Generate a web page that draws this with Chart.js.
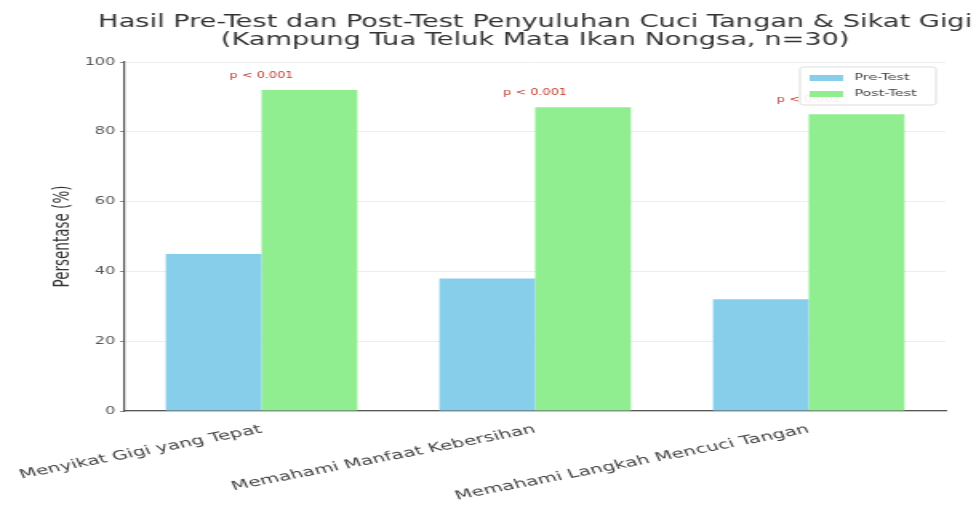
<!DOCTYPE html>
<html lang="id">
<head>
  <meta charset="UTF-8" />
  <title>Hasil Pre-Test dan Post-Test</title>
  <script src="https://cdn.jsdelivr.net/npm/chart.js"></script>
  <style>
    body { margin: 0; background: #fff; overflow: hidden; }
    /* the reference is a horizontally stretched picture: draw at 610 wide, stretch to 976 */
    #wrap { width: 610px; height: 520px; transform: scaleX(1.6); transform-origin: 0 0; }
  </style>
</head>
<body>
  <div id="wrap"><canvas id="chart" width="610" height="520"></canvas></div>
  <script>
    // data
    const categories = ["Menyikat Gigi yang Tepat", "Memahami Manfaat Kebersihan", "Memahami Langkah Mencuci Tangan"];
    const preTest = [45, 38, 32];
    const postTest = [92, 87, 85];
    const pLabels = ["p < 0.001", "p < 0.001", "p < 0.001"];
    const titleLines = ["Hasil Pre-Test dan Post-Test Penyuluhan Cuci Tangan & Sikat Gigi", "(Kampung Tua Teluk Mata Ikan Nongsa, n=30)"];
    const yTicks = [0, 20, 40, 60, 80, 100];

    const preColor = "#87CEEB";
    const postColor = "#90EE90";

    // title centred over the plot area
    const titlePlugin = {
      id: "titleOverPlot",
      afterDraw(chart) {
        const ctx = chart.ctx, a = chart.chartArea;
        const cx = (a.left + a.right) / 2;
        ctx.save();
        ctx.fillStyle = "#333";
        ctx.font = "17px 'DejaVu Sans'";
        ctx.textAlign = "center";
        ctx.textBaseline = "alphabetic";
        ctx.fillText(titleLines[0], cx, 27);
        ctx.fillText(titleLines[1], cx, 45);
        ctx.restore();
      }
    };

    // p-value notes above each group, then the legend box on top
    const notesPlugin = {
      id: "notesAndLegend",
      afterDatasetsDraw(chart) {
        const ctx = chart.ctx;
        const x = chart.scales.x, y = chart.scales.y;
        ctx.save();
        ctx.font = "8px 'DejaVu Sans'";
        ctx.fillStyle = "#c0392b";
        ctx.textAlign = "center";
        ctx.textBaseline = "bottom";
        postTest.forEach((v, i) => {
          ctx.fillText(pLabels[i], x.getPixelForValue(i), y.getPixelForValue(v + 3));
        });
        ctx.restore();

        // legend
        const a = chart.chartArea;
        const bw = 85, bh = 38;
        const bx = a.right - bw - 6, by = a.top + 5;
        ctx.save();
        ctx.fillStyle = "rgba(255,255,255,0.9)";
        ctx.strokeStyle = "#ddd";
        ctx.lineWidth = 1;
        ctx.beginPath();
        ctx.roundRect(bx, by, bw, bh, 2);
        ctx.fill();
        ctx.stroke();
        const items = [["Pre-Test", preColor], ["Post-Test", postColor]];
        ctx.font = "9px 'DejaVu Sans'";
        ctx.textBaseline = "middle";
        ctx.textAlign = "left";
        items.forEach((it, i) => {
          const iy = by + 11 + i * 16;
          ctx.fillStyle = it[1];
          ctx.fillRect(bx + 6, iy - 3, 21, 6);
          ctx.fillStyle = "#444";
          ctx.fillText(it[0], bx + 34, iy);
        });
        ctx.restore();
      }
    };

    new Chart(document.getElementById("chart"), {
      type: "bar",
      data: {
        labels: categories,
        datasets: [
          { label: "Pre-Test", data: preTest, backgroundColor: preColor },
          { label: "Post-Test", data: postTest, backgroundColor: postColor }
        ]
      },
      options: {
        responsive: false,
        animation: false,
        layout: { padding: { top: 62, right: 19, left: 0, bottom: 0 } },
        plugins: {
          legend: { display: false },
          title: { display: false },
          tooltip: { enabled: false }
        },
        datasets: {
          bar: { categoryPercentage: 0.7, barPercentage: 1.0 }
        },
        scales: {
          x: {
            grid: { display: false },
            border: { color: "#555", width: 1.2 },
            ticks: {
              color: "#444",
              font: { family: "DejaVu Sans", size: 12.5 },
              maxRotation: 17,
              minRotation: 17,
              autoSkip: false
            },
            afterFit(s) {
              s.height = 109;
              // rotated labels may hang past the left edge, as in the original
              s.paddingLeft = 0;
              s.paddingRight = 0;
            }
          },
          y: {
            min: 0,
            max: 100,
            afterBuildTicks(s) { s.ticks = yTicks.map(v => ({ value: v })); },
            grid: { color: "#ededed", tickColor: "#888", tickLength: 3 },
            border: { color: "#555", width: 1.2 },
            ticks: { color: "#555", font: { family: "DejaVu Sans", size: 10 }, padding: 3 },
            title: {
              display: true,
              text: "Persentase (%)",
              color: "#333",
              font: { family: "DejaVu Sans", size: 13.5 },
              padding: { top: 31, bottom: 0 }
            },
            afterFit(s) { s.width = 78; }
          }
        }
      },
      plugins: [titlePlugin, notesPlugin]
    });
  </script>
</body>
</html>
